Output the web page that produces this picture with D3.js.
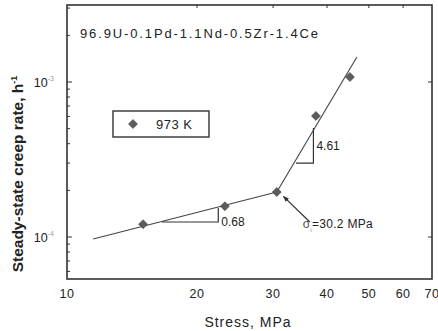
<!DOCTYPE html>
<html>
<head>
<meta charset="utf-8">
<script src="https://cdn.jsdelivr.net/npm/d3@7"></script>
<style>
  body { margin: 0; background: #fff; }
  svg { display: block; font-family: "Liberation Sans", Arial, sans-serif; }
</style>
</head>
<body>
<div id="chart"></div>
<script>
// === DATA ===
const stress = [15, 23.2, 30.6, 37.7, 45.2];          // MPa
const rate = [1.21e-4, 1.58e-4, 1.95e-4, 6.04e-4, 1.077e-3]; // 1/h

// fitted lines (stress, rate)
const lowFitStress = [11.5, 30.6];
const lowFitRate = [0.97e-4, 1.95e-4];
const highFitStress = [30.6, 46.9];
const highFitRate = [1.95e-4, 1.45e-3];

// slope triangles
const triLowStress = [16.6, 22.4, 22.4];
const triLowRate = [1.25e-4, 1.25e-4, 1.54e-4];
const triHighStress = [33.9, 37.2, 37.2];
const triHighRate = [3.0e-4, 3.0e-4, 5.05e-4];

// arrow for transition stress
const arrowStress = [36.5, 31.7];
const arrowRate = [1.25e-4, 1.83e-4];

const xTicks = [10, 20, 30, 40, 50, 60, 70];
const yMajor = [1e-4, 1e-3];
const yMinor = [6e-5, 7e-5, 8e-5, 9e-5, 2e-4, 3e-4, 4e-4, 5e-4, 6e-4, 7e-4, 8e-4, 9e-4, 2e-3, 3e-3];

// === LAYOUT ===
const W = 438, H = 331;
const frame = { left: 67, right: 432, top: 5, bottom: 279 };
const ink = "#333";

const svg = d3.select("#chart").append("svg")
  .attr("width", W).attr("height", H);

const x = d3.scaleLog().domain([10, 70]).range([frame.left, frame.right]);
const y = d3.scaleLog().domain([5.36e-5, 3.14e-3]).range([frame.bottom, frame.top]);

// frame
svg.append("rect")
  .attr("x", frame.left).attr("y", frame.top)
  .attr("width", frame.right - frame.left).attr("height", frame.bottom - frame.top)
  .attr("fill", "none").attr("stroke", ink).attr("stroke-width", 1.6);

// left ticks (inward)
svg.append("g").selectAll("line").data(yMajor.concat(yMinor)).join("line")
  .attr("x1", frame.left).attr("x2", d => frame.left + (yMajor.includes(d) ? 5 : 3))
  .attr("y1", d => y(d)).attr("y2", d => y(d))
  .attr("stroke", ink).attr("stroke-width", 1);

// right ticks
svg.append("g").selectAll("line").data(yMajor).join("line")
  .attr("x1", frame.right).attr("x2", frame.right - 4)
  .attr("y1", d => y(d)).attr("y2", d => y(d))
  .attr("stroke", ink).attr("stroke-width", 1);

// top ticks
svg.append("g").selectAll("line").data(xTicks.slice(1, -1)).join("line")
  .attr("x1", d => x(d)).attr("x2", d => x(d))
  .attr("y1", frame.top).attr("y2", frame.top + 3)
  .attr("stroke", ink).attr("stroke-width", 1);

// x tick labels
svg.append("g").selectAll("text").data(xTicks).join("text")
  .attr("x", d => x(d)).attr("y", 298)
  .attr("text-anchor", "middle")
  .attr("font-size", 12.5).attr("fill", "#222")
  .attr("letter-spacing", 0.5)
  .text(d => d);

// y tick labels 10^-3, 10^-4
const yl = svg.append("g").selectAll("text").data(yMajor).join("text")
  .attr("x", 54).attr("y", d => y(d) + 5)
  .attr("text-anchor", "end")
  .attr("font-size", 12.5).attr("fill", "#222");
yl.append("tspan").text("10");
yl.append("tspan").attr("dy", -6).attr("font-size", 7).attr("fill", "#999")
  .text(d => "-" + Math.round(-Math.log10(d)));

// axis titles
svg.append("text")
  .attr("x", 248).attr("y", 327)
  .attr("text-anchor", "middle")
  .attr("font-size", 14).attr("fill", "#222")
  .attr("letter-spacing", 1)
  .text("Stress, MPa");

const yt = svg.append("text")
  .attr("transform", `translate(23,${(55 + 293) / 2}) rotate(-90)`)
  .attr("text-anchor", "middle")
  .attr("font-size", 15.5).attr("font-weight", "bold").attr("fill", "#222");
yt.append("tspan").text("Steady-state creep rate, h");
yt.append("tspan").attr("dy", -6).attr("font-size", 9).text("-1");

// title
svg.append("text")
  .attr("x", 80).attr("y", 38)
  .attr("font-size", 13).attr("fill", "#222")
  .attr("textLength", 238).attr("lengthAdjust", "spacing")
  .text("96.9U-0.1Pd-1.1Nd-0.5Zr-1.4Ce");

// fit lines
const line = d3.line().x(d => x(d[0])).y(d => y(d[1]));
[[lowFitStress, lowFitRate], [highFitStress, highFitRate]].forEach(([s, r]) => {
  svg.append("path")
    .datum(d3.zip(s, r))
    .attr("d", line)
    .attr("fill", "none").attr("stroke", "#444").attr("stroke-width", 1.1);
});

// slope triangles
[[triLowStress, triLowRate], [triHighStress, triHighRate]].forEach(([s, r]) => {
  svg.append("path")
    .datum(d3.zip(s, r))
    .attr("d", line)
    .attr("fill", "none").attr("stroke", ink).attr("stroke-width", 1.2);
});

svg.append("text")
  .attr("x", x(triLowStress[1]) + 3).attr("y", y(triLowRate[0]) + 4)
  .attr("font-size", 12).attr("fill", "#222")
  .text("0.68");
svg.append("text")
  .attr("x", x(triHighStress[1]) + 3).attr("y", (y(triHighRate[0]) + y(triHighRate[2])) / 2 + 4)
  .attr("font-size", 12).attr("fill", "#222")
  .text("4.61");

// arrow
svg.append("defs").append("marker")
  .attr("id", "arr").attr("viewBox", "0 0 10 10")
  .attr("refX", 9).attr("refY", 5)
  .attr("markerWidth", 7).attr("markerHeight", 5)
  .attr("orient", "auto")
  .append("path").attr("d", "M0,1 L10,5 L0,9 Z").attr("fill", ink);

svg.append("line")
  .attr("x1", x(arrowStress[0])).attr("y1", y(arrowRate[0]))
  .attr("x2", x(arrowStress[1])).attr("y2", y(arrowRate[1]))
  .attr("stroke", ink).attr("stroke-width", 1.2)
  .attr("marker-end", "url(#arr)");

const ann = svg.append("text")
  .attr("x", x(arrowStress[0]) - 7).attr("y", y(arrowRate[0]) + 6)
  .attr("font-size", 12).attr("fill", "#222");
ann.append("tspan").attr("fill", "#555").text("σ");
ann.append("tspan").attr("dy", 4).attr("font-size", 6).attr("fill", "#999").text("t");
ann.append("tspan").attr("dy", -4).attr("letter-spacing", 0.3).text("=30.2 MPa");

// data points
const diamond = d3.symbol().type(d3.symbolSquare).size(40);
svg.append("g").selectAll("path").data(d3.zip(stress, rate)).join("path")
  .attr("d", diamond)
  .attr("transform", d => `translate(${x(d[0])},${y(d[1])}) rotate(45)`)
  .attr("fill", "#5c5c5c").attr("stroke", "#444").attr("stroke-width", 0.6);

// legend
svg.append("rect")
  .attr("x", 113).attr("y", 111).attr("width", 96).attr("height", 26)
  .attr("fill", "none").attr("stroke", ink).attr("stroke-width", 1.4);
svg.append("path")
  .attr("d", diamond)
  .attr("transform", "translate(133,124) rotate(45)")
  .attr("fill", "#5c5c5c").attr("stroke", "#444").attr("stroke-width", 0.6);
svg.append("text")
  .attr("x", 156).attr("y", 129)
  .attr("font-size", 13).attr("fill", "#222")
  .attr("letter-spacing", 0.5)
  .text("973 K");
</script>
</body>
</html>
